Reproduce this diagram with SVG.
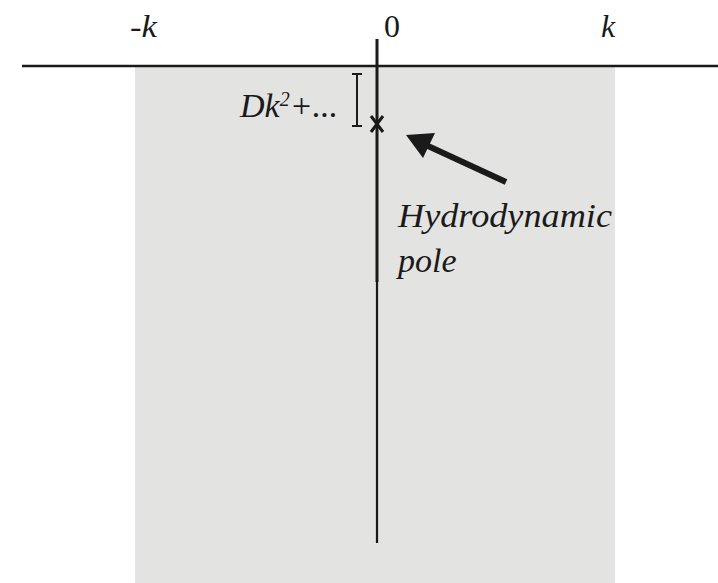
<svg xmlns="http://www.w3.org/2000/svg" width="718" height="583" viewBox="0 0 718 583">
<style>
.lbl{font-family:"Liberation Serif","Times New Roman",serif;font-style:italic;fill:#1a1a1a}
.ax{stroke:#1a1a1a;fill:none}
</style>
<rect width="718" height="583" fill="#fff"/>
<g id="region"><rect x="135" y="67" width="480" height="516" fill="#e3e3e2"/></g>
<g id="connectors">
<line class="ax" x1="22" y1="66" x2="718" y2="66" stroke-width="2.5"/>
<line class="ax" x1="377" y1="39" x2="377" y2="282" stroke-width="3"/>
<line class="ax" x1="377" y1="280" x2="377" y2="543" stroke-width="2.2"/>
<path class="ax" d="M352,74 H362 M357,74 V126 M352,126 H362" stroke-width="2"/>
<line class="ax" x1="506" y1="182" x2="428" y2="146" stroke-width="6"/>
<path d="M406,135 L435,133 L423,158 Z" fill="#1a1a1a"/>
</g>
<g id="pole"><path class="ax" d="M371,116 L383,132 M383,116 L371,132" stroke-width="3"/></g>
<g id="labels">
<text class="lbl" x="130" y="37" font-size="32" textLength="27" lengthAdjust="spacingAndGlyphs">-k</text>
<text x="384" y="37" font-size="32" font-family="'Liberation Serif',serif" fill="#1a1a1a">0</text>
<text class="lbl" x="601" y="37" font-size="32">k</text>
<text class="lbl" x="240" y="117" font-size="34">D<tspan>k</tspan><tspan font-size="20" dy="-11">2</tspan><tspan dy="11">+...</tspan></text>
<text class="lbl" x="398" y="227" font-size="34" textLength="214" lengthAdjust="spacingAndGlyphs">Hydrodynamic</text>
<text class="lbl" x="398" y="272" font-size="34">pole</text>
</g>
</svg>
